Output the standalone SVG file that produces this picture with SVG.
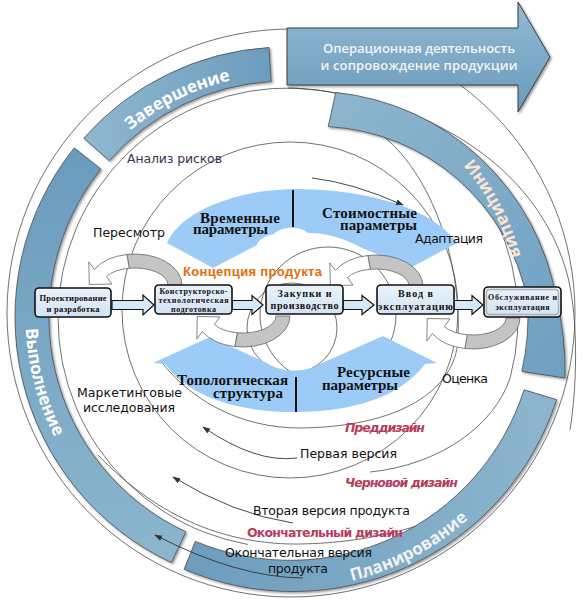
<svg xmlns="http://www.w3.org/2000/svg" width="588" height="602" viewBox="0 0 588 602">
<defs>
<style>
.ln{fill:none;stroke:#4d4d4d;stroke-width:0.8}
.ar{fill:none;stroke:#333;stroke-width:0.9;marker-end:url(#ah)}
.band{stroke:#4a4a4a;stroke-width:0.8;filter:url(#sh)}
.bt{font-family:"Open Sans","DejaVu Sans",sans-serif;font-weight:700;font-size:17px}
.lb{font-family:"DejaVu Sans","Liberation Sans",sans-serif;font-size:12.5px;fill:#111}
.cr{font-family:"DejaVu Sans","Liberation Sans",sans-serif;font-size:12.5px;font-weight:700;fill:#b83b5e}
.box{fill:url(#gbox);stroke:#111;stroke-width:1.6}
.bx{font-family:"Liberation Serif","DejaVu Serif",serif;font-weight:700;fill:#111;text-anchor:middle}
.ba{fill:#d6e8f8;stroke:#111;stroke-width:1.2}
.bl{fill:#9ccbf8}
.pt{font-family:"Liberation Serif","DejaVu Serif",serif;font-weight:700;font-size:15px;fill:#111}
</style>
<linearGradient id="gArrow" x1="0" y1="0" x2="0" y2="1"><stop offset="0" stop-color="#92bad2"/><stop offset="1" stop-color="#6a9abc"/></linearGradient>
<linearGradient id="gZav" x1="0" y1="0" x2="1" y2="0"><stop offset="0" stop-color="#8fb8cf"/><stop offset="1" stop-color="#6c9cbf"/></linearGradient>
<linearGradient id="gVyp" x1="0" y1="0" x2="0" y2="1"><stop offset="0" stop-color="#6a9bbd"/><stop offset="1" stop-color="#8cb6ce"/></linearGradient>
<linearGradient id="gPla" x1="0" y1="0" x2="1" y2="0"><stop offset="0" stop-color="#6c9cbe"/><stop offset="1" stop-color="#8db6ce"/></linearGradient>
<linearGradient id="gIni" x1="0" y1="0" x2="1" y2="1"><stop offset="0" stop-color="#8db6ce"/><stop offset="1" stop-color="#6f9fc1"/></linearGradient>
<linearGradient id="gbox" x1="0" y1="0" x2="0" y2="1"><stop offset="0" stop-color="#eaf2fa"/><stop offset="1" stop-color="#d2e3f3"/></linearGradient>
<filter id="sh" x="-10%" y="-10%" width="125%" height="125%"><feDropShadow dx="1.5" dy="1.5" stdDeviation="1" flood-color="#000" flood-opacity="0.4"/></filter>
<marker id="ah" viewBox="0 0 10 10" refX="9" refY="5" markerWidth="8" markerHeight="8" markerUnits="userSpaceOnUse" orient="auto"><path d="M0,1.5 L10,5 L0,8.5 Z" fill="#333"/></marker>
<path id="pZav" d="M108.3,151.3 A243,243 0 0 1 260.6,75.3"/>
<path id="pVyp" d="M34.8,249.5 A261,261 0 0 0 101.4,501.6"/>
<path id="pIni" d="M419.6,126.1 A233,233 0 0 1 519,317"/>
<path id="pPla" d="M238.8,584.9 A272,272 0 0 0 534.5,427.6"/>
<g id="loop">
<path d="M47,0 A47,31 0 0 0 -8.16,-30.53 L-5.73,-16.74 A33,17 0 0 1 33,0 Z" fill="#c4c4c4" stroke="#666" stroke-width="0.8"/>
<path d="M-8.16,-30.53 A47,31 0 0 0 -40.7,-15.5 L-46.2,-23.1 L-45.7,-0.5 L-23.1,-0.9 L-28.6,-8.5 A33,17 0 0 1 -5.73,-16.74 Z" fill="#fff" stroke="#666" stroke-width="0.8"/>
</g>
</defs>
<rect width="588" height="602" fill="#fff"/>

<g id="rings">
<circle class="ln" cx="291" cy="313" r="284"/>
<path class="ln" d="M248.1,544.5 A230,230 0 1 1 510.2,377.5 C495,425 440,465 370,472"/>
<path class="ln" d="M288,88 C400,92 530,150 566,270 C578,310 578,380 570,430"/>
<circle class="ln" cx="290" cy="310" r="168"/>
<path class="ln" d="M372,128 C430,165 462,260 458,340 C455,390 400,427 300,428 C240,428 190,400 160,360"/>
<path class="ln" d="M98,455 C160,520 230,545 300,544 C380,543 450,520 500,488"/>
<circle class="ln" cx="328" cy="315" r="68"/>
<circle class="ln" cx="292" cy="328" r="45"/>
</g>

<g id="phase-bands">
<path class="band" fill="url(#gZav)" d="M83.8,138.1 A270,270 0 0 1 269,47.5 L271.2,81.5 A236,236 0 0 0 109.2,160.6 Z"/>
<path class="band" fill="url(#gVyp)" d="M74.2,147.9 L100.8,169.1 A237,237 0 0 0 185.8,531.8 L171.5,562.6 A271,271 0 0 1 74.2,147.9 Z"/>
<path class="band" fill="url(#gPla)" d="M556.6,399.7 A277,277 0 0 1 184.1,569.2 L195.3,541.4 A246,246 0 0 0 524.1,389.8 Z"/>
<path class="band" fill="url(#gIni)" d="M335.8,92.5 A250,250 0 0 1 556.3,298.1 A300,300 0 0 1 565,378 L521.8,371.4 A242,242 0 0 0 527.4,300.1 A215,215 0 0 0 328.2,126.6 Z"/>
<text class="bt" fill="#ffffff"><textPath href="#pZav" startOffset="50%" text-anchor="middle">Завершение</textPath></text>
<text class="bt" fill="#ffffff"><textPath href="#pVyp" startOffset="50%" text-anchor="middle">Выполнение</textPath></text>
<text class="bt" fill="#fce4d0" font-size="16.5"><textPath href="#pIni" startOffset="50%" text-anchor="middle">Инициация</textPath></text>
<text class="bt" fill="#f2f2f2" font-size="18"><textPath href="#pPla" startOffset="50%" text-anchor="middle">Планирование</textPath></text>
</g>

<g id="operations-arrow">
<path d="M287,28 H518 V2 L550,57 L518,112 V85 H287 Z" fill="url(#gArrow)" stroke="#3d3d3d" stroke-width="1" filter="url(#sh)"/>
<text x="419" y="53" text-anchor="middle" textLength="192" font-family="'Open Sans','DejaVu Sans',sans-serif" font-weight="600" font-size="13" fill="#f4f4f4">Операционная деятельность</text>
<text x="419" y="70" text-anchor="middle" textLength="197" font-family="'Open Sans','DejaVu Sans',sans-serif" font-weight="600" font-size="13" fill="#f4f4f4">и сопровождение продукции</text>
</g>

<g id="parameter-arrows">
<path class="bl" d="M167,243 C180,212 235,190 293,189 C360,189 430,205 457,243 L410,268 L360,247 C345,238 322,232 308,233 C300,226 282,226 274,234 C265,236 258,240 257,245 L213,268 Z"/>
<path class="bl" d="M153,363 L210,337 L267,363 C280,372 305,374 322,363 L383,336 L437,363 L425,364 C400,398 350,412 295,412 C240,412 190,398 165,364 Z"/>
<line x1="293" y1="190" x2="293" y2="227" stroke="#111" stroke-width="2"/>
<line x1="296" y1="377" x2="296" y2="412" stroke="#111" stroke-width="2"/>
<text class="pt" x="200" y="223" textLength="80">Временные</text>
<text class="pt" x="193" y="234" textLength="75">параметры</text>
<text class="pt" x="322" y="218" textLength="95">Стоимостные</text>
<text class="pt" x="340" y="230" textLength="77">параметры</text>
<text class="pt" x="177" y="385" textLength="111">Топологическая</text>
<text class="pt" x="213" y="398" textLength="70">структура</text>
<text class="pt" x="337" y="377" textLength="73">Ресурсные</text>
<text class="pt" x="322" y="390" textLength="76">параметры</text>
</g>

<g id="connectors">
<use href="#loop" transform="translate(135,285)"/>
<use href="#loop" transform="translate(376,286)"/>
<use href="#loop" transform="translate(243,316) scale(1,-1)"/>
<use href="#loop" transform="translate(473,318) scale(1,-1)"/>
<path class="ba" d="M112,300.5 H143 V295 L154,305 L143,315 V309.5 H112 Z"/>
<path class="ba" d="M232,300.5 H252 V295.5 L263,305 L252,314.5 V309.5 H232 Z"/>
<path class="ba" d="M343,300.5 H362 V295.5 L374,305 L362,314.5 V309.5 H343 Z"/>
<path class="ba" d="M454,300.5 H472 V295.5 L483,305 L472,314.5 V309.5 H454 Z"/>
<path class="ar" d="M312,178 Q352.5,182.5 403,205"/>
<path class="ar" d="M297,458 Q256,463.5 203,427"/>
<path class="ar" d="M293,523 Q233,514 173,477"/>
<path class="ar" d="M303,578 Q237,577.5 155,535"/>
</g>

<g id="node-design">
<rect class="box" x="35" y="288" width="76" height="29" rx="4"/>
<text class="bx" font-size="8.5" x="73" y="301" textLength="67">Проектирование</text>
<text class="bx" font-size="8.5" x="73" y="312" textLength="53">и разработка</text>
</g>
<g id="node-preparation">
<rect class="box" x="155" y="285" width="77" height="29" rx="4"/>
<text class="bx" font-size="8" x="193.5" y="293.5" textLength="68">Конструкторско-</text>
<text class="bx" font-size="8" x="193.5" y="302.5" textLength="70">технологическая</text>
<text class="bx" font-size="8" x="193.5" y="311.5" textLength="45">подготовка</text>
</g>
<g id="node-production">
<rect class="box" x="266" y="285" width="77" height="29" rx="4"/>
<text class="bx" font-size="10" x="304.5" y="296.5" textLength="54">Закупки и</text>
<text class="bx" font-size="10" x="304.5" y="309" textLength="68">производство</text>
</g>
<g id="node-commissioning">
<rect class="box" x="377" y="285" width="77" height="29" rx="4"/>
<text class="bx" font-size="10" x="415.5" y="296.5" textLength="35">Ввод в</text>
<text class="bx" font-size="10" x="415.5" y="309.5" textLength="75">эксплуатацию</text>
</g>
<g id="node-service">
<rect class="box" x="484" y="287" width="77" height="30" rx="4" stroke="#333"/>
<rect x="486.5" y="289.5" width="72" height="25" rx="3" fill="none" stroke="#b0b0b0" stroke-width="1.4"/>
<text class="bx" font-size="8" x="522.5" y="299.5" textLength="69">Обслуживание и</text>
<text class="bx" font-size="8" x="522.5" y="310" textLength="54">эксплуатация</text>
</g>

<g id="labels">
<text class="lb" x="127" y="163" textLength="95" style="fill:#3f3151">Анализ рисков</text>
<text class="lb" x="93" y="237" textLength="72">Пересмотр</text>
<text class="lb" x="415" y="243" textLength="68">Адаптация</text>
<text class="lb" x="442" y="383" textLength="46">Оценка</text>
<text class="lb" x="77" y="397" textLength="105">Маркетинговые</text>
<text class="lb" x="83" y="412" textLength="92">исследования</text>
<text class="lb" x="300" y="458" textLength="97">Первая версия</text>
<text class="lb" x="253" y="515" textLength="157">Вторая версия продукта</text>
<text class="lb" x="225" y="557" textLength="147">Окончательная версия</text>
<text class="lb" x="268" y="573" textLength="60">продукта</text>
<text class="cr" x="345" y="432" textLength="80" font-style="italic">Преддизайн</text>
<text class="cr" x="345" y="487" textLength="113" font-style="italic">Черновой дизайн</text>
<text class="cr" x="247" y="537" textLength="156">Окончательный дизайн</text>
<text x="183" y="276" textLength="139" font-family="'Liberation Sans','DejaVu Sans',sans-serif" font-weight="700" font-size="13" fill="#e46c0a">Концепция продукта</text>
</g>
</svg>
